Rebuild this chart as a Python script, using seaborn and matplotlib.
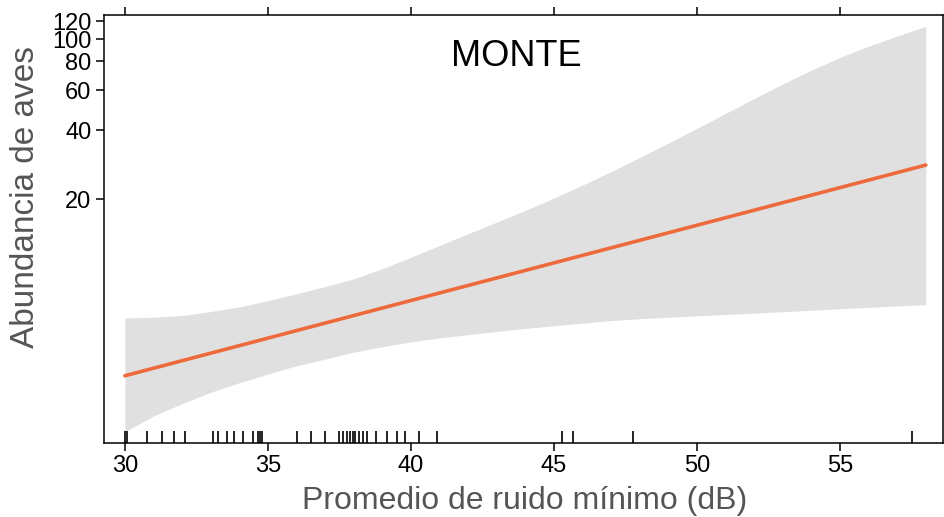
import numpy as np
import pandas as pd
import matplotlib
matplotlib.use("Agg")
import matplotlib.pyplot as plt
from matplotlib.ticker import FixedLocator, NullLocator, FixedFormatter
import seaborn as sns

# ---- data ----
x_grid = [30, 31, 32, 33, 34, 35, 36, 37, 38, 39, 40, 41, 42, 43, 44,
          45, 46, 47, 48, 49, 50, 51, 52, 53, 54, 55, 56, 57, 58]
upper = [6.08, 6.12, 6.23, 6.48, 6.79, 7.23, 7.75, 8.33, 9.01, 9.97, 11.19, 12.59, 14.18, 15.93, 17.92,
         20.29, 23.10, 26.47, 30.48, 35.24, 40.85, 47.47, 55.15, 63.81, 73.33, 83.35, 93.31, 103.3, 113.9]
lower = [1.94, 2.27, 2.57, 2.88, 3.17, 3.46, 3.76, 4.02, 4.31, 4.55, 4.78, 4.97, 5.14, 5.31, 5.47,
         5.62, 5.77, 5.92, 6.03, 6.12, 6.21, 6.29, 6.38, 6.47, 6.57, 6.67, 6.76, 6.86, 6.95]
fit_x = [30, 58]
fit_y = [3.40, 28.25]
rug_x = [30.02, 30.09, 30.79, 31.30, 31.70, 32.11, 33.09, 33.27, 33.56, 33.83, 34.12,
         34.49, 34.67, 34.73, 34.80, 36.00, 36.50, 37.00, 37.50, 37.64, 37.76, 37.88,
         37.96, 38.04, 38.17, 38.33, 38.48, 38.79, 39.16, 39.51, 39.80, 40.29, 40.91,
         45.29, 45.68, 47.78, 57.52]
x_ticks = [30, 35, 40, 45, 50, 55]
y_ticks = [20, 40, 60, 80, 100, 120]
title = "MONTE"
x_label = "Promedio de ruido mínimo (dB)"
y_label = "Abundancia de aves"

sns.set_style("white")
plt.rcParams['font.family'] = ['Liberation Sans', 'DejaVu Sans']

fig = plt.figure(figsize=(9.45, 5.17), dpi=100)
ax = fig.add_axes([104/945, 1 - 443/517, (943-104)/945, (443-15)/517])

band = pd.DataFrame({"x": x_grid, "lower": lower, "upper": upper})
line = pd.DataFrame({"x": fit_x, "fit": fit_y})
ax.fill_between(band["x"], band["lower"], band["upper"], color="#e0e0e0", linewidth=0, zorder=1)
sns.lineplot(data=line, x="x", y="fit", ax=ax, color="#ee6a3c", linewidth=2.6, zorder=3)
sns.rugplot(x=rug_x, ax=ax, height=0.027, color="black", linewidth=1.2, expand_margins=False)

ax.set_yscale("log")
ax.set_xlim(29.27, 58.6)
ax.set_ylim(1.73, 127.6)
ax.yaxis.set_major_locator(FixedLocator(y_ticks))
ax.yaxis.set_major_formatter(FixedFormatter([str(v) for v in y_ticks]))
ax.yaxis.set_minor_locator(NullLocator())
ax.set_xticks(x_ticks)
ax.set_xticklabels([str(v) for v in x_ticks])

ax.tick_params(axis="both", direction="out", length=6, width=1.1, color="black",
               labelsize=17, labelcolor="black", pad=3)
ax.tick_params(axis="x", top=True, labeltop=False, bottom=True)
ax.tick_params(axis="y", left=True, right=False)

for s in ax.spines.values():
    s.set_visible(True)
    s.set_color("black")
    s.set_linewidth(1.1)

ax.set_xlabel("")
ax.set_ylabel("")
fig.text(525/945, 1 - 509/517, x_label, ha="center", va="baseline",
         fontsize=23, color="#555555")
fig.text(26/945, 1 - 197/517, y_label, ha="center", va="center", rotation=90,
         fontsize=24, color="#555555")
ax.text(0.492, 0.902, title, transform=ax.transAxes, ha="center", va="center",
        fontsize=26, color="black")

fig.savefig("out.png", dpi=100)
